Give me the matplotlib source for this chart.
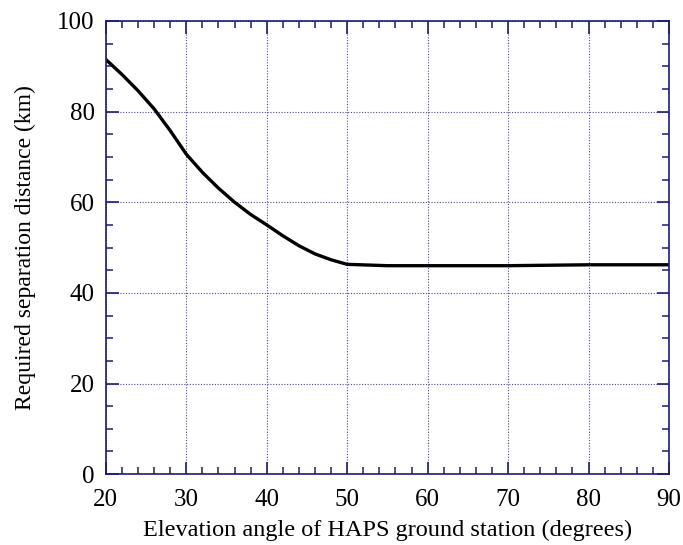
import matplotlib
matplotlib.use("Agg")
from matplotlib import pyplot as plt
from matplotlib.ticker import MultipleLocator

plt.rcParams['font.family'] = ['Liberation Serif', 'DejaVu Serif']

elevation = [20, 22, 24, 26, 28, 30, 32, 34, 36, 38, 40, 42, 44, 46, 48, 50,
             55, 60, 70, 80, 90]
distance = [91.5, 88.2, 84.6, 80.6, 75.8, 70.6, 66.6, 63.1, 60.0, 57.3, 55.0,
            52.6, 50.4, 48.6, 47.3, 46.3, 46.0, 46.0, 46.0, 46.2, 46.2]

navy = '#1c1c78'

fig = plt.figure(figsize=(6.83, 5.45), dpi=100)
ax = fig.add_axes([0.155, 0.130, 0.8245, 0.8315])

ax.plot(elevation, distance, color='black', linewidth=2.4)

ax.set_xlim(20, 90)
ax.set_ylim(0, 100)
ax.xaxis.set_major_locator(MultipleLocator(10))
ax.xaxis.set_minor_locator(MultipleLocator(2))
ax.yaxis.set_major_locator(MultipleLocator(20))
ax.yaxis.set_minor_locator(MultipleLocator(5))

ax.grid(True, which='major', color='#4a4a9a', linestyle=(0, (1, 1.5)), linewidth=0.8)
for s in ax.spines.values():
    s.set_color(navy)
    s.set_linewidth(1.2)
ax.tick_params(which='both', direction='in', top=True, right=True,
               color=navy, labelsize=18)
ax.tick_params(axis='x', pad=11)
ax.tick_params(axis='y', pad=8)
ax.tick_params(which='major', length=9, width=1.2)
ax.tick_params(which='minor', length=5, width=1.1)

ax.set_xlabel('Elevation angle of HAPS ground station (degrees)', fontsize=17.5, labelpad=6)
ax.set_ylabel('Required separation distance (km)', fontsize=17, labelpad=15)

fig.savefig('out.png', dpi=100)
